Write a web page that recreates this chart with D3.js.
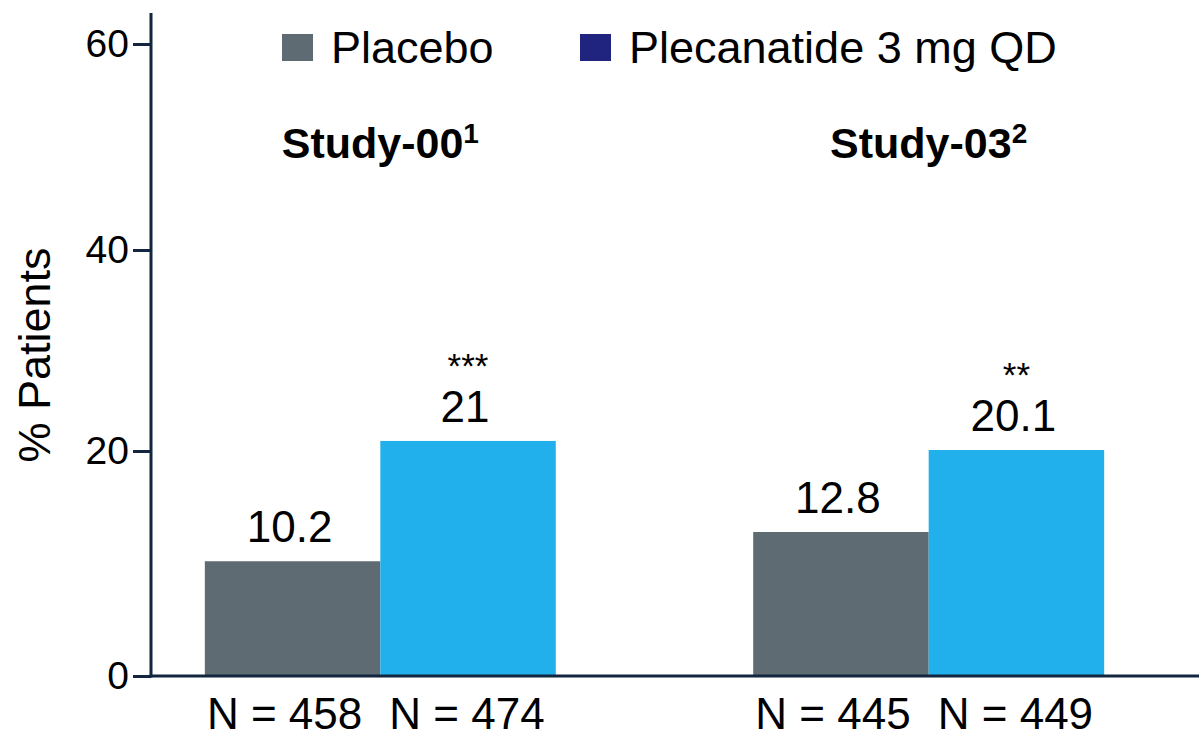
<!DOCTYPE html>
<html>
<head>
<meta charset="utf-8">
<script src="https://cdn.jsdelivr.net/npm/d3@7"></script>
<style>
  body { margin: 0; background: #fff; }
  svg { display: block; }
  text { font-family: "Liberation Sans", Arial, Helvetica, sans-serif; fill: #000; }
</style>
</head>
<body>
<svg id="chart" width="1199" height="737"></svg>
<script>
// Responders by study and treatment arm
const studies = ["Study-00", "Study-03"];
const studyRefs = ["1", "2"];
const series = ["Placebo", "Plecanatide 3 mg QD"];
const placeboValues = [10.2, 12.8];
const plecanatideValues = [21, 20.1];
const placeboN = [458, 445];
const plecanatideN = [474, 449];
const significance = ["***", "**"];
const yTicks = [0, 20, 40, 60];
const yLabel = "% Patients";

const barColors = { "Placebo": "#5e6b72", "Plecanatide 3 mg QD": "#22b0ec" };
const legendColors = { "Placebo": "#5e6b72", "Plecanatide 3 mg QD": "#21247f" };
const nLabelShift = { "Placebo": -8, "Plecanatide 3 mg QD": -1 };
const axisColor = "#12263f";

const rows = studies.map((s, i) => ({
  study: s,
  ref: studyRefs[i],
  sig: significance[i],
  bars: [
    { series: series[0], value: placeboValues[i], n: placeboN[i] },
    { series: series[1], value: plecanatideValues[i], n: plecanatideN[i] }
  ]
}));

const svg = d3.select("#chart");

const axisX = 151, baseY = 676;

const y = d3.scaleLinear().domain(yTicks).range([676, 451, 250, 44]);
const x = d3.scaleBand().domain(studies).range([150, 1159]).paddingInner(0.36).paddingOuter(0.1);
const xs = d3.scaleBand().domain(series).range([0, x.bandwidth()]);

// bars
const groups = svg.append("g").selectAll("g").data(rows).join("g")
  .attr("transform", d => `translate(${x(d.study)},0)`);

groups.selectAll("rect").data(d => d.bars).join("rect")
  .attr("x", d => xs(d.series))
  .attr("y", d => y(d.value))
  .attr("width", xs.bandwidth())
  .attr("height", d => baseY - y(d.value))
  .attr("fill", d => barColors[d.series]);

// value labels
groups.selectAll("text.val").data(d => d.bars).join("text")
  .attr("class", "val")
  .attr("x", d => xs(d.series) + xs.bandwidth() / 2 - 3)
  .attr("y", d => y(d.value) - 19)
  .attr("text-anchor", "middle")
  .attr("font-size", 44)
  .text(d => d.value);

// significance markers above the active arm
groups.append("text")
  .attr("x", xs(series[1]) + xs.bandwidth() / 2)
  .attr("y", d => y(d.bars[1].value) - 19 - 44)
  .attr("text-anchor", "middle")
  .attr("font-size", 35)
  .text(d => d.sig);

// sample sizes under the axis
groups.selectAll("text.n").data(d => d.bars).join("text")
  .attr("class", "n")
  .attr("x", d => xs(d.series) + xs.bandwidth() / 2 + nLabelShift[d.series])
  .attr("y", 729)
  .attr("text-anchor", "middle")
  .attr("font-size", 44)
  .text(d => `N = ${d.n}`);

// study titles with reference superscripts
const titles = groups.append("text")
  .attr("x", x.bandwidth() / 2)
  .attr("y", 158)
  .attr("text-anchor", "middle")
  .attr("font-size", 43)
  .attr("font-weight", "bold");
titles.append("tspan").text(d => d.study);
titles.append("tspan").attr("font-size", 28).attr("dy", -15).text(d => d.ref);

// y axis
const yAxis = svg.append("g")
  .attr("transform", `translate(${axisX},0)`)
  .call(d3.axisLeft(y).tickValues(yTicks).tickSize(18).tickSizeOuter(0).tickPadding(4));
yAxis.select(".domain").remove();
yAxis.selectAll(".tick line").attr("stroke", axisColor).attr("stroke-width", 3);
yAxis.selectAll(".tick text")
  .style("font-size", "39px")
  .style("font-family", "'Liberation Sans', Arial, sans-serif")
  .attr("fill", "#000");

svg.append("line")
  .attr("x1", axisX).attr("x2", axisX)
  .attr("y1", 13).attr("y2", baseY + 1.5)
  .attr("stroke", axisColor).attr("stroke-width", 3);
svg.append("line")
  .attr("x1", axisX - 1.5).attr("x2", 1199)
  .attr("y1", baseY).attr("y2", baseY)
  .attr("stroke", axisColor).attr("stroke-width", 3);

svg.append("text")
  .attr("transform", `translate(50,355) rotate(-90)`)
  .attr("text-anchor", "middle")
  .attr("font-size", 45)
  .text(yLabel);

// legend
const legendPos = [282, 580];
const legend = svg.append("g").selectAll("g").data(series).join("g")
  .attr("transform", (d, i) => `translate(${legendPos[i]},0)`);
legend.append("rect")
  .attr("x", 0).attr("y", 34).attr("width", 31).attr("height", 27)
  .attr("fill", d => legendColors[d]);
legend.append("text")
  .attr("x", 49).attr("y", 63)
  .attr("font-size", 45)
  .text(d => d);
</script>
</body>
</html>
